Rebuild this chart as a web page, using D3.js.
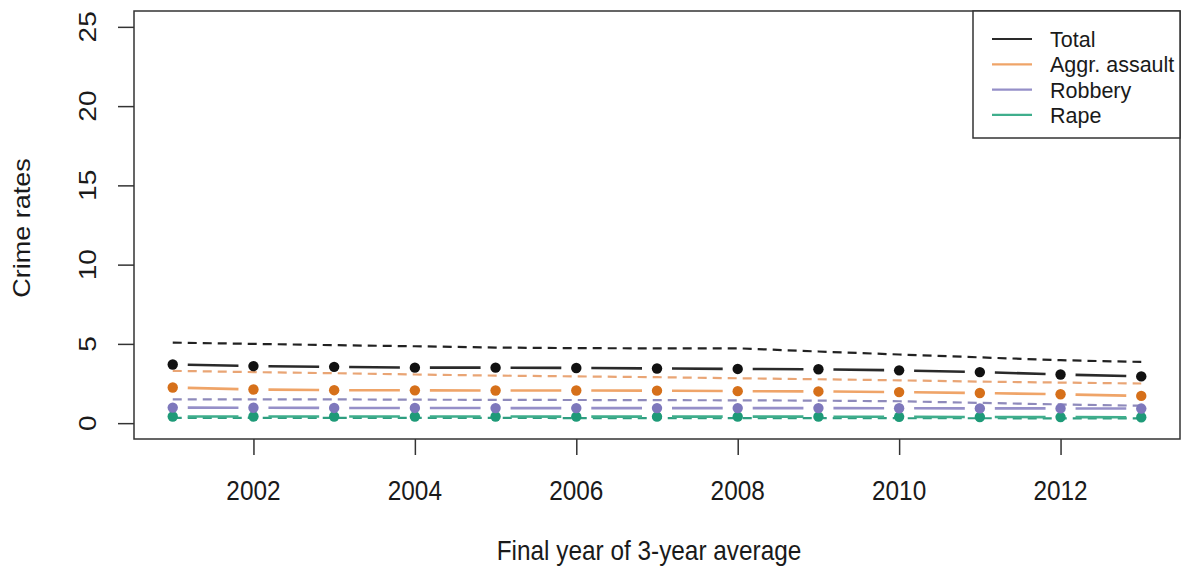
<!DOCTYPE html>
<html><head><meta charset="utf-8">
<script src="https://cdn.jsdelivr.net/npm/d3@7"></script>
<style>
html,body{margin:0;padding:0;background:#fff;}
svg text{font-family:"Liberation Sans",Arial,Helvetica,sans-serif;fill:#1a1a1a;}
</style></head>
<body><svg id="chart" width="1184" height="569"></svg>
<script>
const years = [2001,2002,2003,2004,2005,2006,2007,2008,2009,2010,2011,2012,2013];
const xTicks = [2002,2004,2006,2008,2010,2012];
const yTicks = [0,5,10,15,20,25];
const totalRate   = [3.70,3.60,3.55,3.50,3.50,3.48,3.45,3.42,3.40,3.33,3.22,3.07,2.95];
const assaultRate = [2.25,2.12,2.08,2.07,2.06,2.06,2.05,2.02,2.00,1.96,1.90,1.82,1.72];
const robberyRate = [0.98,0.97,0.96,0.96,0.95,0.95,0.95,0.95,0.95,0.94,0.93,0.93,0.92];
const rapeRate    = [0.42,0.42,0.42,0.42,0.42,0.41,0.41,0.41,0.41,0.40,0.39,0.38,0.37];
const totalRef    = [5.08,5.00,4.92,4.85,4.77,4.73,4.72,4.72,4.52,4.33,4.15,3.97,3.86];
const assaultRef  = [3.30,3.22,3.15,3.07,3.00,2.95,2.90,2.83,2.77,2.70,2.62,2.56,2.50];
const robberyRef  = [1.50,1.50,1.50,1.48,1.47,1.46,1.45,1.44,1.42,1.38,1.28,1.18,1.10];
const rapeRef     = [0.33,0.33,0.33,0.33,0.33,0.32,0.32,0.32,0.32,0.31,0.31,0.30,0.30];
const seriesNames = ["Total","Aggr. assault","Robbery","Rape"];

const series = [
  {name:seriesNames[0], vals:totalRate,   ref:totalRef,   pt:"#111111", line:"#2a2a2a", dash:"#222222"},
  {name:seriesNames[1], vals:assaultRate, ref:assaultRef, pt:"#D6701A", line:"#EFA468", dash:"#E9A575"},
  {name:seriesNames[2], vals:robberyRate, ref:robberyRef, pt:"#7E78BC", line:"#958FC8", dash:"#8E8ABB"},
  {name:seriesNames[3], vals:rapeRate,    ref:rapeRef,    pt:"#1E9A78", line:"#3FAE8C", dash:"#2E9E80"}
];

const L=134, R=1180, T=11, B=439;
const x = d3.scaleLinear().domain([2001-0.48, 2013+0.48]).range([L,R]);
const y = d3.scaleLinear().domain([-1, 26]).range([B,T]);
const svg = d3.select("#chart");
const SX = 0.87;

// dashed reference lines
const lineGen = d3.line().x((d,i)=>x(years[i])).y(d=>y(d));
series.slice().reverse().forEach(s=>{
  svg.append("path").attr("d", lineGen(s.ref)).attr("fill","none")
    .attr("stroke", s.dash).attr("stroke-width",2.2).attr("stroke-dasharray","9,6");
});

// type "b" lines with gaps
const gap = 15;
series.slice().reverse().forEach(s=>{
  for(let i=0;i<years.length-1;i++){
    const x0=x(years[i]), y0=y(s.vals[i]), x1=x(years[i+1]), y1=y(s.vals[i+1]);
    const dx=x1-x0, dy=y1-y0, len=Math.hypot(dx,dy), ux=dx/len, uy=dy/len;
    svg.append("line")
      .attr("x1",x0+ux*gap).attr("y1",y0+uy*gap)
      .attr("x2",x1-ux*gap).attr("y2",y1-uy*gap)
      .attr("stroke",s.line).attr("stroke-width",2.6);
  }
  svg.selectAll(null).data(s.vals).enter().append("circle")
    .attr("cx",(d,i)=>x(years[i])).attr("cy",d=>y(d)).attr("r",5.2)
    .attr("fill",s.pt);
});

// frame
svg.append("rect").attr("x",L).attr("y",T).attr("width",R-L).attr("height",B-T)
  .attr("fill","none").attr("stroke","#333").attr("stroke-width",1.5);

// x axis
const xAxis = svg.append("g").attr("transform",`translate(0,${B})`)
  .call(d3.axisBottom(x).tickValues(xTicks).tickSize(16).tickFormat(""));
xAxis.select(".domain").remove();
xAxis.selectAll("line").attr("stroke","#333").attr("stroke-width",1.5);
xTicks.forEach(t=>{
  svg.append("text").attr("transform",`translate(${x(t)},500) scale(${SX},1)`)
    .attr("text-anchor","middle").attr("font-size",28).text(String(t));
});

// y axis
const yAxis = svg.append("g").attr("transform",`translate(${L},0)`)
  .call(d3.axisLeft(y).tickValues(yTicks).tickSize(16).tickFormat(""));
yAxis.select(".domain").remove();
yAxis.selectAll("line").attr("stroke","#333").attr("stroke-width",1.5);
yTicks.forEach(t=>{
  svg.append("text").attr("transform",`translate(96,${y(t)}) scale(${SX},1) rotate(-90)`)
    .attr("text-anchor","middle").attr("font-size",28).text(String(t));
});

// axis titles
svg.append("text").attr("transform",`translate(${(L+R)/2-8},560) scale(${SX},1)`)
  .attr("text-anchor","middle").attr("font-size",28).text("Final year of 3-year average");
svg.append("text").attr("transform",`translate(30,228) scale(${SX},1) rotate(-90)`)
  .attr("text-anchor","middle").attr("font-size",27).text("Crime rates");

// legend
const lg = svg.append("g");
lg.append("rect").attr("x",973).attr("y",T).attr("width",R-973).attr("height",127)
  .attr("fill","#fff").attr("stroke","#333").attr("stroke-width",1.5);
series.forEach((s,i)=>{
  const cy = 39 + i*25.3;
  lg.append("line").attr("x1",992).attr("x2",1032).attr("y1",cy).attr("y2",cy)
    .attr("stroke",s.line).attr("stroke-width",2.2);
  lg.append("text").attr("x",1050).attr("y",cy+8)
    .attr("font-size",21.5).text(s.name);
});
</script></body></html>
